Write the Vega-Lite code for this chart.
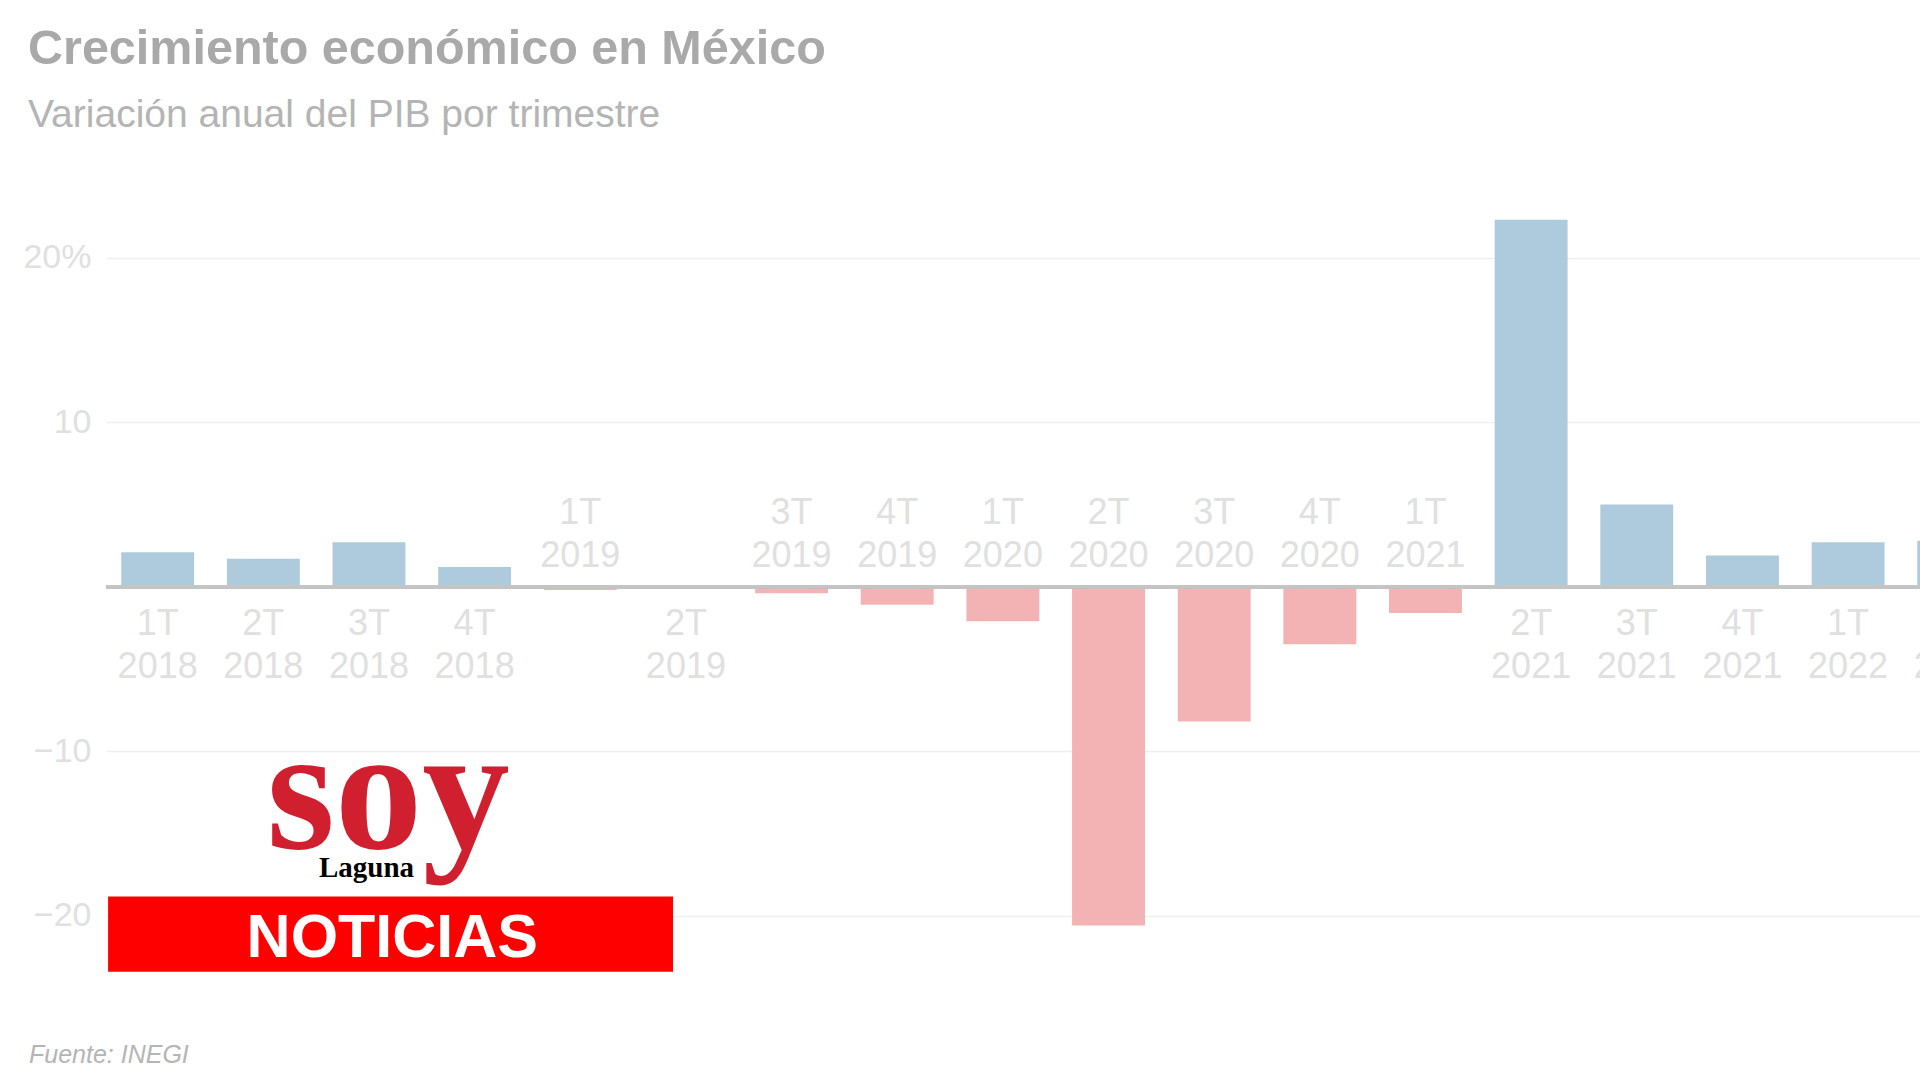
{
  "$schema": "https://vega.github.io/schema/vega-lite/v6.json",
  "autosize": {"type": "none"},
  "width": 1814,
  "height": 855.4,
  "padding": {"left": 106, "top": 159, "right": 0, "bottom": 65.6},
  "background": "#ffffff",
  "config": {
    "view": {"stroke": null},
    "font": "Liberation Sans, Arial, sans-serif"
  },
  "title": {
    "text": "Crecimiento económico en México",
    "subtitle": "Variación anual del PIB por trimestre",
    "anchor": "start",
    "frame": "group",
    "dx": -78,
    "offset": 23,
    "font": "Liberation Sans, Arial, sans-serif",
    "fontSize": 48.5,
    "fontWeight": "bold",
    "color": "#a9a9a9",
    "subtitleFont": "Liberation Sans, Arial, sans-serif",
    "subtitleFontSize": 39,
    "subtitleColor": "#b4b4b4",
    "subtitlePadding": 22
  },
  "data": {
    "values": [
      {"trimestre": "1T 2018", "variacion": 2.1},
      {"trimestre": "2T 2018", "variacion": 1.7},
      {"trimestre": "3T 2018", "variacion": 2.7},
      {"trimestre": "4T 2018", "variacion": 1.2},
      {"trimestre": "1T 2019", "variacion": -0.2},
      {"trimestre": "2T 2019", "variacion": 0.0},
      {"trimestre": "3T 2019", "variacion": -0.4},
      {"trimestre": "4T 2019", "variacion": -1.1},
      {"trimestre": "1T 2020", "variacion": -2.1},
      {"trimestre": "2T 2020", "variacion": -20.6},
      {"trimestre": "3T 2020", "variacion": -8.2},
      {"trimestre": "4T 2020", "variacion": -3.5},
      {"trimestre": "1T 2021", "variacion": -1.6},
      {"trimestre": "2T 2021", "variacion": 22.3},
      {"trimestre": "3T 2021", "variacion": 5.0},
      {"trimestre": "4T 2021", "variacion": 1.9},
      {"trimestre": "1T 2022", "variacion": 2.7},
      {"trimestre": "2T 2022", "variacion": 2.8}
    ]
  },
  "layer": [
    {
      "mark": {"type": "bar"},
      "encoding": {
        "x": {
          "field": "trimestre",
          "type": "nominal",
          "axis": null,
          "scale": {
            "domain": ["1T 2018", "2T 2018", "3T 2018", "4T 2018", "1T 2019", "2T 2019", "3T 2019", "4T 2019", "1T 2020", "2T 2020", "3T 2020", "4T 2020", "1T 2021", "2T 2021", "3T 2021", "4T 2021", "1T 2022", "2T 2022"],
            "range": [0, 1899.4],
            "paddingInner": 0.31,
            "paddingOuter": 0.144
          }
        },
        "y": {
          "field": "variacion",
          "type": "quantitative",
          "title": null,
          "scale": {"domain": [-26, 26], "nice": false, "zero": false},
          "axis": {
            "values": [-20, -10, 10, 20],
            "labelExpr": "datum.value == 20 ? '20%' : datum.label",
            "grid": true,
            "gridColor": "#efefef",
            "gridWidth": 1.5,
            "domain": false,
            "ticks": false,
            "labelFont": "Liberation Sans, Arial, sans-serif",
            "labelFontSize": 34,
            "labelColor": "#e0e0e0",
            "labelPadding": 15
          }
        },
        "color": {
          "condition": {"test": "datum.variacion >= 0", "value": "#adcbdc"},
          "value": "#f3b2b3"
        }
      }
    },
    {
      "mark": {"type": "rule", "color": "#c4c4c4", "strokeWidth": 3},
      "encoding": {"y": {"datum": 0}}
    },
    {
      "transform": [{"filter": "datum.variacion >= 0"}],
      "mark": {
        "type": "text",
        "baseline": "top",
        "dy": 20,
        "lineBreak": " ",
        "lineHeight": 43,
        "fontSize": 36,
        "color": "#e0e0e0"
      },
      "encoding": {
        "x": {"field": "trimestre", "type": "nominal"},
        "y": {"datum": 0},
        "text": {"field": "trimestre"}
      }
    },
    {
      "transform": [{"filter": "datum.variacion < 0"}],
      "mark": {
        "type": "text",
        "baseline": "bottom",
        "dy": -55,
        "lineBreak": " ",
        "lineHeight": 43,
        "fontSize": 36,
        "color": "#e0e0e0"
      },
      "encoding": {
        "x": {"field": "trimestre", "type": "nominal"},
        "y": {"datum": 0},
        "text": {"field": "trimestre"}
      }
    },
    {
      "data": {"values": [{"marca": "NOTICIAS"}]},
      "mark": {"type": "rect", "color": "#ff0000"},
      "encoding": {
        "x": {"datum": "1T 2018", "bandPosition": -0.18},
        "x2": {"datum": "2T 2019", "bandPosition": 0.323},
        "y": {"datum": -18.84},
        "y2": {"datum": -23.4}
      }
    },
    {
      "data": {"values": [{"marca": "NOTICIAS"}]},
      "mark": {"type": "text", "align": "center", "baseline": "alphabetic", "fontSize": 61, "fontWeight": "bold", "color": "#ffffff"},
      "encoding": {
        "x": {"datum": "3T 2018", "bandPosition": 0.82},
        "y": {"datum": -22.49},
        "text": {"field": "marca"}
      }
    },
    {
      "data": {"values": [{"marca": "soy"}]},
      "mark": {"type": "text", "align": "center", "baseline": "alphabetic", "font": "Liberation Serif, DejaVu Serif, serif", "fontSize": 175, "fontWeight": "bold", "color": "#d0202f"},
      "encoding": {
        "x": {"datum": "3T 2018", "bandPosition": 0.765},
        "y": {"datum": -15.88},
        "text": {"field": "marca"}
      }
    },
    {
      "data": {"values": [{"marca": "Laguna"}]},
      "mark": {"type": "text", "align": "center", "baseline": "alphabetic", "font": "Liberation Serif, DejaVu Serif, serif", "fontSize": 29, "fontWeight": "bold", "color": "#000000"},
      "encoding": {
        "x": {"datum": "3T 2018", "bandPosition": 0.466},
        "y": {"datum": -17.63},
        "text": {"field": "marca"}
      }
    },
    {
      "data": {"values": [{"fuente": "Fuente: INEGI"}]},
      "mark": {"type": "text", "align": "left", "baseline": "alphabetic", "fontSize": 25, "fontStyle": "italic", "color": "#b5b5b5"},
      "encoding": {
        "x": {"datum": "1T 2018", "bandPosition": -1.265},
        "y": {"datum": -28.98},
        "text": {"field": "fuente"}
      }
    }
  ]
}
